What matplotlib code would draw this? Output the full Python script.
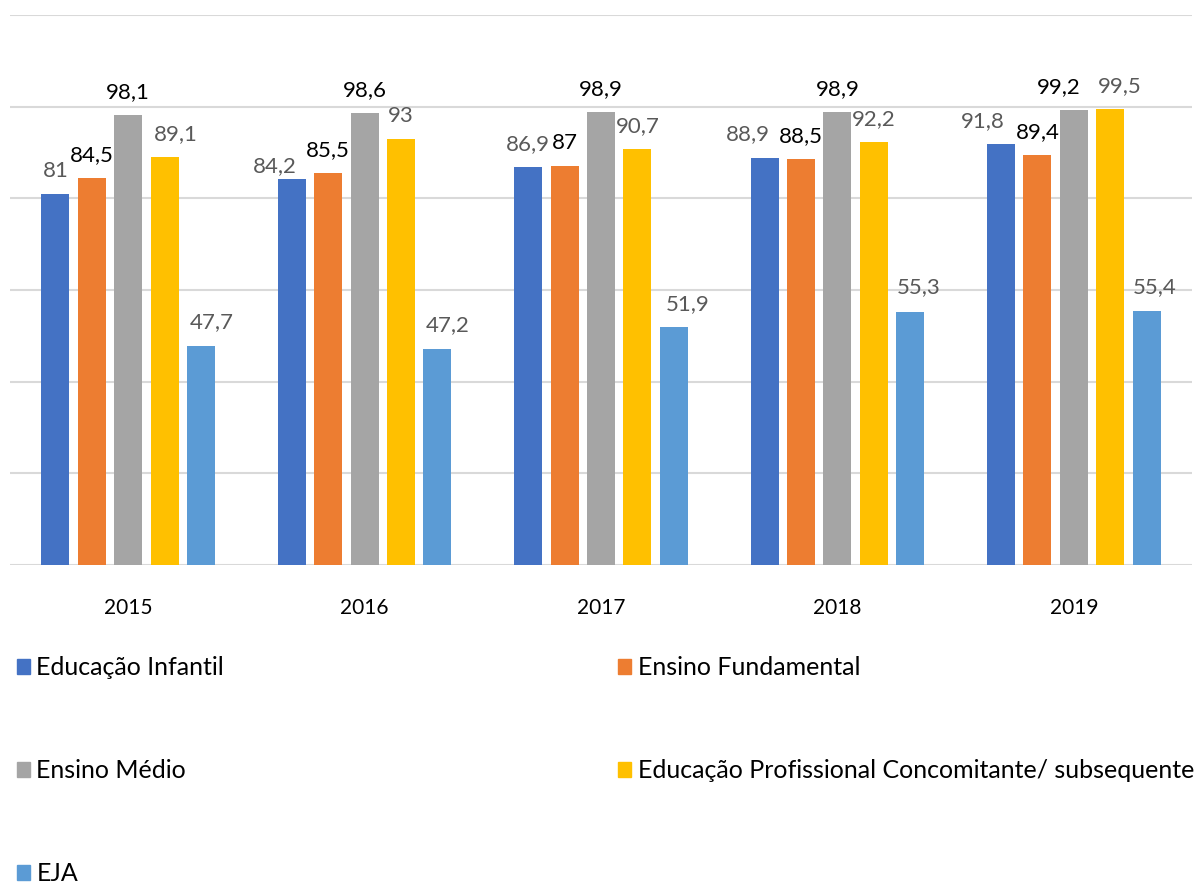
import numpy as np
import matplotlib.pyplot as plt
from matplotlib.patches import Patch

plt.rcParams['font.family'] = ['Lato', 'DejaVu Sans']

# dados
anos = ['2015', '2016', '2017', '2018', '2019']
series = ['Educação Infantil', 'Ensino Fundamental', 'Ensino Médio',
          'Educação Profissional Concomitante/ subsequente', 'EJA']
infantil = [81, 84.2, 86.9, 88.9, 91.8]
fundamental = [84.5, 85.5, 87, 88.5, 89.4]
medio = [98.1, 98.6, 98.9, 98.9, 99.2]
profissional = [89.1, 93, 90.7, 92.2, 99.5]
eja = [47.7, 47.2, 51.9, 55.3, 55.4]

valores = [infantil, fundamental, medio, profissional, eja]
cores = ['#4472C4', '#ED7D31', '#A5A5A5', '#FFC000', '#5B9BD5']
cor_rotulo = ['#595959', '#000000', '#000000', '#595959', '#595959']

# deslocamento dos rótulos (pixels), como o Excel os arrumou
desl_x = [[0, -17, 0, -17, -18],
          [0, 0, 0, 0, 0],
          [0, 0, 0, 0, -15],
          [11, 0, 0, 0, 10],
          [11, 10, 14, 8, 8]]
desl_y = [[17, 7, 17, 17, 17],
          [17, 17, 17, 17, 17],
          [17, 17, 17, 17, 17],
          [17, 17, 17, 17, 17],
          [18, 18, 17, 18, 18]]

W, H = 1198, 888
fig = plt.figure(figsize=(W / 100, H / 100), dpi=100)
ax = fig.add_axes([10 / W, (H - 565) / H, 1182 / W, 550 / H])

x = np.arange(len(anos))
passo = 0.154
largura = 0.118
for i, (vals, cor) in enumerate(zip(valores, cores)):
    pos = x + (i - 2) * passo
    ax.bar(pos, vals, width=largura, color=cor, zorder=3)
    for j, (p, v) in enumerate(zip(pos, vals)):
        txt = ('%g' % v).replace('.', ',')
        ax.annotate(txt, (p, v), xytext=(desl_x[i][j], desl_y[i][j]),
                    textcoords='offset pixels', ha='center', va='baseline',
                    fontsize=16, color=cor_rotulo[i], zorder=4)

ax.set_xlim(-0.5, 4.5)
ax.set_ylim(0, 120)
ax.set_yticks(np.arange(0, 121, 20))
ax.yaxis.grid(True, color='#D9D9D9', linewidth=1.5, zorder=0)
ax.tick_params(axis='y', left=False, labelleft=False)
ax.tick_params(axis='x', bottom=False, labelsize=15, pad=20, colors='#000000')
ax.set_xticks(x)
ax.set_xticklabels(anos)
for s in ax.spines.values():
    s.set_visible(False)

# legenda (ordem por coluna)
ordem = [0, 2, 4, 1, 3]
handles = [Patch(color=cores[i]) for i in ordem]
labels = [series[i] for i in ordem]
fig.legend(handles, labels, ncol=2, loc='upper left',
           bbox_to_anchor=(7 / W, 1 - 646 / H), frameon=False,
           fontsize=18, handlelength=0.53, handleheight=0.53,
           handletextpad=0.25, labelspacing=3.2, columnspacing=15.75,
           borderaxespad=0)

fig.savefig('out.png', dpi=100)
